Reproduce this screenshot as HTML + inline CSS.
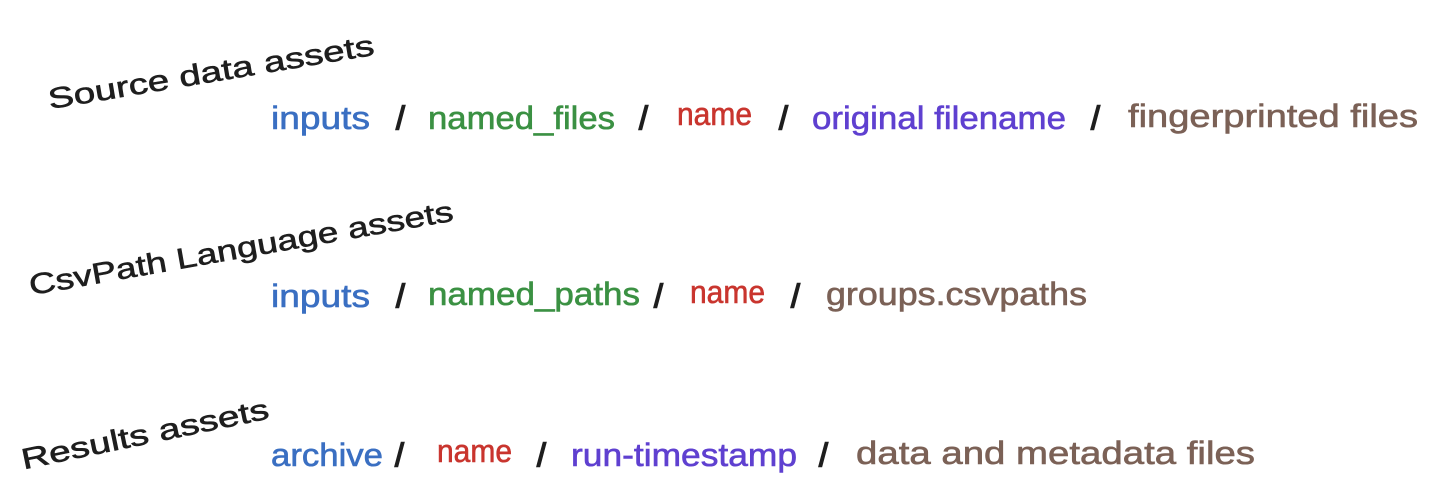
<!DOCTYPE html>
<html><head><meta charset="utf-8"><style>
html,body{margin:0;padding:0;background:#fff;}
svg{display:block;}
text{font-family:"Liberation Sans",sans-serif;}
</style></head><body>
<svg width="1434" height="496" viewBox="0 0 1434 496" xmlns="http://www.w3.org/2000/svg">
<g font-size="29" fill="#1e1e1e" stroke="#1e1e1e" stroke-width="0.6" text-anchor="middle">
<text x="211" y="82" transform="rotate(-9.5 211 72)" textLength="330" lengthAdjust="spacingAndGlyphs">Source data assets</text>
<text x="241" y="258" transform="rotate(-10 241 248)" textLength="430" lengthAdjust="spacingAndGlyphs">CsvPath Language assets</text>
<text x="145" y="444" transform="rotate(-11.7 145 434)" textLength="252" lengthAdjust="spacingAndGlyphs">Results assets</text>
</g>
<g font-size="32" stroke-width="0.6">
<text x="271" y="129" fill="#3a6fc2" stroke="#3a6fc2" textLength="99" lengthAdjust="spacingAndGlyphs">inputs</text>
<text x="396" y="129" fill="#1e1e1e" stroke="#1e1e1e" stroke-width="1.5">/</text>
<text x="428" y="129" fill="#3b9143" stroke="#3b9143" textLength="187" lengthAdjust="spacingAndGlyphs">named_files</text>
<text x="639" y="129" fill="#1e1e1e" stroke="#1e1e1e" stroke-width="1.5">/</text>
<text x="677" y="125" fill="#c9352e" stroke="#c9352e" textLength="75" lengthAdjust="spacingAndGlyphs">name</text>
<text x="779" y="129" fill="#1e1e1e" stroke="#1e1e1e" stroke-width="1.5">/</text>
<text x="812" y="129" fill="#5f40d0" stroke="#5f40d0" textLength="254" lengthAdjust="spacingAndGlyphs">original filename</text>
<text x="1091" y="129" fill="#1e1e1e" stroke="#1e1e1e" stroke-width="1.5">/</text>
<text x="1128" y="127" fill="#7b6156" stroke="#7b6156" textLength="290" lengthAdjust="spacingAndGlyphs">fingerprinted files</text>

<text x="271" y="307" fill="#3a6fc2" stroke="#3a6fc2" textLength="99" lengthAdjust="spacingAndGlyphs">inputs</text>
<text x="396" y="307" fill="#1e1e1e" stroke="#1e1e1e" stroke-width="1.5">/</text>
<text x="428" y="305" fill="#3b9143" stroke="#3b9143" textLength="212" lengthAdjust="spacingAndGlyphs">named_paths</text>
<text x="654" y="307" fill="#1e1e1e" stroke="#1e1e1e" stroke-width="1.5">/</text>
<text x="690" y="303" fill="#c9352e" stroke="#c9352e" textLength="75" lengthAdjust="spacingAndGlyphs">name</text>
<text x="791" y="307" fill="#1e1e1e" stroke="#1e1e1e" stroke-width="1.5">/</text>
<text x="826" y="305" fill="#7b6156" stroke="#7b6156" textLength="261" lengthAdjust="spacingAndGlyphs">groups.csvpaths</text>

<text x="271" y="466" fill="#3a6fc2" stroke="#3a6fc2" textLength="112" lengthAdjust="spacingAndGlyphs">archive</text>
<text x="395" y="466" fill="#1e1e1e" stroke="#1e1e1e" stroke-width="1.5">/</text>
<text x="437" y="462" fill="#c9352e" stroke="#c9352e" textLength="75" lengthAdjust="spacingAndGlyphs">name</text>
<text x="537" y="466" fill="#1e1e1e" stroke="#1e1e1e" stroke-width="1.5">/</text>
<text x="571" y="466" fill="#5f40d0" stroke="#5f40d0" textLength="226" lengthAdjust="spacingAndGlyphs">run-timestamp</text>
<text x="819" y="466" fill="#1e1e1e" stroke="#1e1e1e" stroke-width="1.5">/</text>
<text x="856" y="464" fill="#7b6156" stroke="#7b6156" textLength="399" lengthAdjust="spacingAndGlyphs">data and metadata files</text>
</g>
</svg>
</body></html>
